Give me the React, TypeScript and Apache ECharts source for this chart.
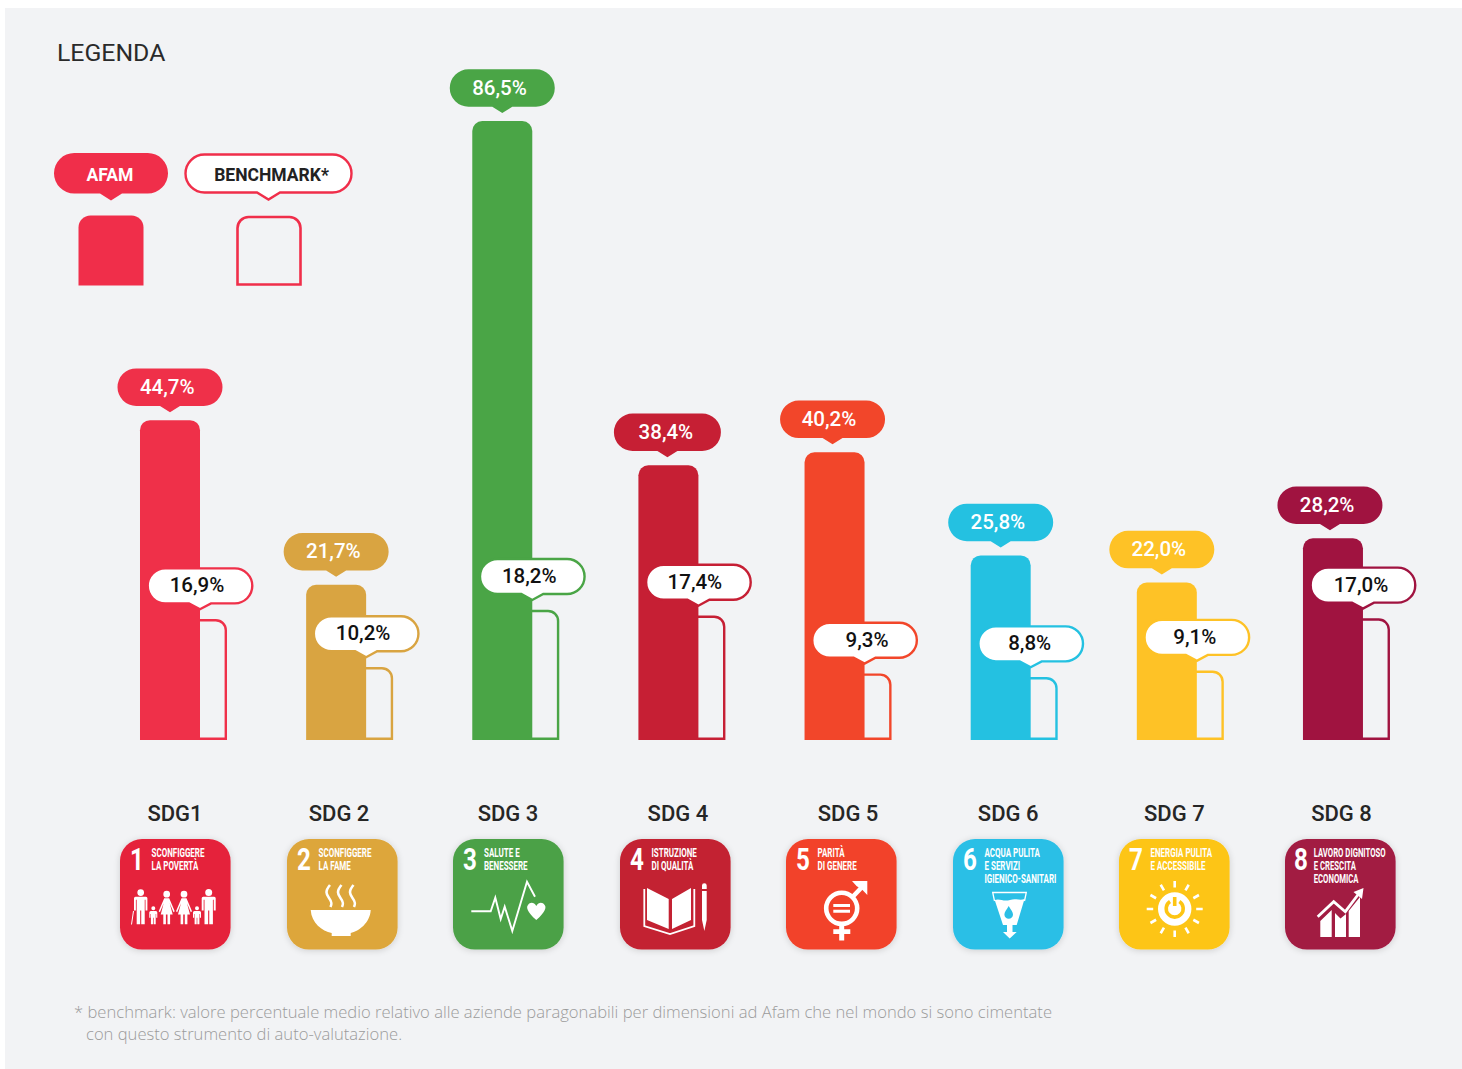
import React, { useEffect, useRef } from "react";
import * as echarts from "echarts";

// ---------- data ----------
const categories = ["SDG1", "SDG 2", "SDG 3", "SDG 4", "SDG 5", "SDG 6", "SDG 7", "SDG 8"];
const afamValues = [44.7, 21.7, 86.5, 38.4, 40.2, 25.8, 22.0, 28.2];
// values printed in the labels
const benchmarkValues = [16.9, 10.2, 18.2, 17.4, 9.3, 8.8, 9.1, 17.0];
// bar heights as drawn in the picture (the SDG 7 bar stands a little taller than its label says)
const benchmarkBarValues = [16.9, 10.2, 18.2, 17.4, 9.3, 8.8, 9.7, 17.0];
const iconNumbers = ["1", "2", "3", "4", "5", "6", "7", "8"];
const iconLabels = [
  ["SCONFIGGERE", "LA POVERTÀ"],
  ["SCONFIGGERE", "LA FAME"],
  ["SALUTE E", "BENESSERE"],
  ["ISTRUZIONE", "DI QUALITÀ"],
  ["PARITÀ", "DI GENERE"],
  ["ACQUA PULITA", "E SERVIZI", "IGIENICO-SANITARI"],
  ["ENERGIA PULITA", "E ACCESSIBILE"],
  ["LAVORO DIGNITOSO", "E CRESCITA", "ECONOMICA"],
];
const footnoteLines = [
  "* benchmark: valore percentuale medio relativo alle aziende paragonabili per dimensioni ad Afam che nel mondo si sono cimentate",
  "con questo strumento di auto-valutazione.",
];

// ---------- style / layout ----------
const barColors = ["#ef3049", "#d9a441", "#4aa546", "#c61f34", "#f2462a", "#24c1e1", "#fec226", "#a01340"];
const iconColors = ["#e5243b", "#dda63a", "#4ca146", "#c32030", "#f2432b", "#2bbfe6", "#fdc513", "#a21a42"];
const iconLefts = [120, 287, 453, 620, 786, 953, 1119, 1285];
const labelShift = [-8.5, -10.6, -7.8, -4, 0, -6, -6, -5];
const afamBubbleShift = [0, 0, 0, -1, -2, 0, -5, -3];
const afamBubbleWidth = [105, 105, 105, 107, 105, 105, 105, 105];
const afamTextShift = [-2.8, -2.8, -2.8, -1.5, -3.5, -2.8, -3, -2.8];
const benchTextShift = [-3, -3, -3, -3.5, 2.5, -1, -2, -2];
const PANEL = "#f2f3f5";
const FONT = "Roboto";

const F = (n: number) => +n.toFixed(2);

function bubblePath(cx: number, top: number, w: number, h: number, tipX: number, tipY: number, base: number) {
  const r = h / 2;
  const l = cx - w / 2;
  const rr = cx + w / 2;
  const b = top + h;
  return (
    `M${F(l + r)} ${F(top)} L${F(rr - r)} ${F(top)} A${F(r)} ${F(r)} 0 0 1 ${F(rr - r)} ${F(b)} ` +
    `L${F(tipX + base)} ${F(b)} L${F(tipX)} ${F(tipY)} L${F(tipX - base)} ${F(b)} ` +
    `L${F(l + r)} ${F(b)} A${F(r)} ${F(r)} 0 0 1 ${F(l + r)} ${F(top)} Z`
  );
}

const circ = (cx: number, cy: number, r: number) =>
  `M${F(cx - r)} ${F(cy)} a${r} ${r} 0 1 0 ${F(2 * r)} 0 a${r} ${r} 0 1 0 ${F(-2 * r)} 0 Z `;
const box = (x: number, y: number, w: number, h: number) =>
  `M${F(x)} ${F(y)} L${F(x + w)} ${F(y)} L${F(x + w)} ${F(y + h)} L${F(x)} ${F(y + h)} Z `;

function man(cx: number, top: number, bottom: number, hw: number) {
  const hr = hw * 0.5;
  const mid = top + (bottom - top) * 0.5;
  return (
    circ(cx, top - hr - 0.8, hr) +
    `M${F(cx - hw)} ${F(top + 1.5)} Q${F(cx - hw)} ${F(top)} ${F(cx - hw + 1.5)} ${F(top)} L${F(cx + hw - 1.5)} ${F(top)} Q${F(cx + hw)} ${F(top)} ${F(cx + hw)} ${F(top + 1.5)} L${F(cx + hw)} ${F(mid)} L${F(cx + hw * 0.72)} ${F(mid)} L${F(cx + hw * 0.72)} ${F(top + 3)} L${F(cx + hw * 0.6)} ${F(top + 3)} L${F(cx + hw * 0.6)} ${F(bottom)} L${F(cx + hw * 0.08)} ${F(bottom)} L${F(cx + hw * 0.08)} ${F(mid)} L${F(cx - hw * 0.08)} ${F(mid)} L${F(cx - hw * 0.08)} ${F(bottom)} L${F(cx - hw * 0.6)} ${F(bottom)} L${F(cx - hw * 0.6)} ${F(top + 3)} L${F(cx - hw * 0.72)} ${F(top + 3)} L${F(cx - hw * 0.72)} ${F(mid)} L${F(cx - hw)} ${F(mid)} Z `
  );
}

function woman(cx: number, top: number, bottom: number, hw: number) {
  const hr = hw * 0.42;
  const hem = top + (bottom - top) * 0.62;
  return (
    circ(cx, top - hr - 0.8, hr) +
    `M${F(cx - 2.5)} ${F(top)} L${F(cx + 2.5)} ${F(top)} L${F(cx + hw)} ${F(top + 13)} L${F(cx + hw - 1.2)} ${F(top + 14)} L${F(cx + 3)} ${F(top + 5)} L${F(cx + hw * 0.75)} ${F(hem)} L${F(cx - hw * 0.75)} ${F(hem)} L${F(cx - 3)} ${F(top + 5)} L${F(cx - hw + 1.2)} ${F(top + 14)} L${F(cx - hw)} ${F(top + 13)} Z ` +
    box(cx - 3.4, hem, 2.6, bottom - hem) +
    box(cx + 0.8, hem, 2.6, bottom - hem)
  );
}

const sunRays = Array.from({ length: 12 }, (_, k) => {
  const a = (k * Math.PI) / 6;
  const c = 55.7;
  const d = 70;
  return `M${F(c + 21.5 * Math.sin(a))} ${F(d - 21.5 * Math.cos(a))} L${F(c + 28 * Math.sin(a))} ${F(d - 28 * Math.cos(a))} `;
}).join("");

// glyphs in a 111x111 local box: solid parts, stroked parts, parts in the tile colour
const iconGlyphs = [
  {
    fill:
      man(20.7, 57.7, 85.3, 6.7) +
      man(33.3, 72, 85.3, 4) +
      woman(46.7, 59.3, 85.3, 8) +
      woman(64, 59.3, 85.3, 8) +
      man(77, 72, 85.3, 4) +
      man(88.7, 57.7, 85.3, 7),
    stroke: "M13.5 72 L11.5 85.5",
    width: 1,
  },
  {
    fill: "M23.7 71 L83.7 71 C83 84 72 92 63.7 94 L63.7 97 L44.7 97 L44.7 94 C35 92 24.5 84 23.7 71 Z",
    stroke:
      "M43 46 C38 52 39 55 42 59 C45 63 45 65 43.5 68 M54.5 46 C49.5 52 50.5 55 53.5 59 C56.5 63 56.5 65 55 68 M66.5 46 C61.5 52 62.5 55 65.5 59 C68.5 63 68.5 65 67 68",
    width: 2.6,
  },
  {
    fill: "M83.3 81 C74 73 73 68 75 66 C77 63 81 63 83.3 67 C85.6 63 89.6 63 91.6 66 C93.6 68 92.6 73 83.3 81 Z",
    stroke: "M18.3 72.3 L37.7 72.3 L42.3 58.7 L47.7 80 L51.7 67.7 L59.3 92 L74 42.7 L82 57.7",
    width: 1.9,
  },
  {
    fill:
      "M27 49 L48.7 60 L48.7 90 L27 81 Z M52 60 L71 49 L71 81 L52 90 Z " +
      "M82 46.5 A2.35 2.35 0 0 1 86.7 46.5 L86.7 50 L82 50 Z M82 52 L86.7 52 L86.7 81 L84.35 92 L82 81 Z",
    stroke: "M24.3 50 L24.3 87 L50 95 L74.3 87 L74.3 50",
    width: 1.8,
  },
  {
    fill:
      box(47.3, 65, 16.7, 3) +
      box(47.3, 70.8, 16.7, 3) +
      box(53.2, 85, 5, 16.5) +
      box(47.3, 90.3, 17, 4.7) +
      "M66 42 L81.3 42 L81.3 56 L76.5 51 L70.5 47 Z",
    stroke: circ(55.7, 69.3, 15.5) + "M67 57.5 L77 47",
    width: 4.6,
  },
  {
    fill: "M41.7 61 C47 59 50 63 57 61 C63 59 67 62 71.5 60 L63.7 86 L59.5 86 L59.5 93 L63.7 93 L56.7 99.5 L50 93 L54 93 L54 86 L50 86 Z",
    stroke: "M41.5 62 L39.7 53.5 L73.3 53.5 L71.5 62",
    width: 1.3,
    hole: "M55.7 67 C58 71 60 73 60 75.5 A4.3 4.3 0 0 1 51.4 75.5 C51.4 73 53.4 71 55.7 67 Z",
  },
  {
    fill: circ(55.7, 70, 16.7),
    stroke: sunRays,
    width: 2.6,
    holeStroke: "M51 62.5 A8.5 8.5 0 1 0 60.4 62.5 M55.7 58 L55.7 67",
    holeWidth: 3.6,
  },
  {
    fill:
      "M35.3 82 L46.7 71 L46.7 98 L35.3 98 Z M50 74 L55.5 79.5 L61 75 L61 98 L50 98 Z M63.7 72 L75 58 L75 98 L63.7 98 Z " +
      "M78.5 49 L68.5 53 L77 60 Z",
    stroke: "M32.7 77.7 L48.7 62.7 L60.3 72.7 L73.5 55",
    width: 2.8,
  },
];

const legendAfamD = bubblePath(111, 153, 114, 40.5, 111, 200.5, 11);
const legendBenchD = bubblePath(268.5, 154.5, 166, 38, 268.5, 199.5, 11.5);
echarts.graphic.registerShape("legendAfamBubble", echarts.graphic.extendPath(legendAfamD, {}));
echarts.graphic.registerShape("legendBenchBubble", echarts.graphic.extendPath(legendBenchD, {}));
iconGlyphs.forEach((g: any, i) => {
  echarts.graphic.registerShape(`glyphFill${i}`, echarts.graphic.extendPath(g.fill, {}));
  echarts.graphic.registerShape(`glyphStroke${i}`, echarts.graphic.extendPath(g.stroke, {}));
  if (g.hole) echarts.graphic.registerShape(`glyphHole${i}`, echarts.graphic.extendPath(g.hole, {}));
  if (g.holeStroke) echarts.graphic.registerShape(`glyphHoleStroke${i}`, echarts.graphic.extendPath(g.holeStroke, {}));
});

const fmt = (v: number) => v.toFixed(1).replace(".", ",") + "%";

function iconTile(i: number) {
  const g: any = iconGlyphs[i];
  const lineX = i === 7 ? 28.7 : i === 2 ? 31 : 31.5;
  const children: any[] = [
    {
      type: "rect",
      shape: { x: 0, y: 0, width: 110.6, height: 110.6, r: 22 },
      style: { fill: iconColors[i], shadowBlur: 6, shadowColor: "rgba(0,0,0,0.16)", shadowOffsetY: 1 },
    },
    {
      type: "text",
      x: i === 7 ? 16 : 17,
      y: 20.5,
      scaleX: 0.78,
      style: { text: iconNumbers[i], fill: "#fff", fontFamily: FONT, fontSize: 31, fontWeight: 700, align: "center", verticalAlign: "middle" },
    },
    ...iconLabels[i].map((t, k) => ({
      type: "text",
      x: lineX,
      y: 13.5 + k * 13.3,
      scaleX: i === 7 ? 0.645 : 0.665,
      style: { text: t, fill: "#fff", fontFamily: FONT, fontSize: 12, fontWeight: 700, align: "left", verticalAlign: "middle" },
    })),
    { type: `glyphFill${i}`, x: 0, y: 0, style: { fill: "#fff" } },
    { type: `glyphStroke${i}`, x: 0, y: 0, style: { fill: "none", stroke: "#fff", lineWidth: g.width } },
  ];
  if (g.hole) children.push({ type: `glyphHole${i}`, x: 0, y: 0, style: { fill: iconColors[i] } });
  if (g.holeStroke)
    children.push({
      type: `glyphHoleStroke${i}`,
      x: 0,
      y: 0,
      style: { fill: "none", stroke: iconColors[i], lineWidth: g.holeWidth },
    });
  return { type: "group", x: iconLefts[i], y: 839, silent: true, children };
}

function bubbleItem(
  cx: number,
  centerY: number,
  tipX: number,
  tipY: number,
  w: number,
  h: number,
  base: number,
  fill: string,
  stroke: string | null,
  text: string,
  textColor: string,
  textShift: number
) {
  return {
    type: "group",
    children: [
      {
        type: "path",
        shape: { pathData: bubblePath(cx, centerY - h / 2, w, h, tipX, tipY, base) },
        style: stroke ? { fill, stroke, lineWidth: 2.4 } : { fill },
      },
      {
        type: "text",
        style: {
          text,
          x: cx + textShift,
          y: centerY - 0.5,
          fill: textColor,
          fontFamily: FONT,
          fontSize: 20.5,
          fontWeight: 500,
          align: "center",
          verticalAlign: "middle",
        },
      },
    ],
  };
}

export default function App() {
  const ref = useRef<HTMLDivElement>(null);
  useEffect(() => {
    const chart = echarts.init(ref.current!, undefined, { renderer: "svg" });
    const afamBubbles = (params: any, api: any) => {
      const i = params.dataIndex;
      const [x, y] = api.coord([api.value(0), api.value(1)]);
      const tipX = x - 13.5 + afamBubbleShift[i];
      return bubbleItem(tipX, y - 33, tipX, y - 8, afamBubbleWidth[i], 37.5, 10, barColors[i], null, fmt(api.value(1)), "#fff", afamTextShift[i]);
    };
    const benchBubbles = (params: any, api: any) => {
      const i = params.dataIndex;
      const [x, y] = api.coord([api.value(0), api.value(1)]);
      const tipX = x + 16.5;
      return bubbleItem(x + 16.5, y - 33.2, tipX, y - 9.8, 104.6, 35, 11, "#fff", barColors[i], fmt(benchmarkValues[i]), "#111", benchTextShift[i]);
    };
    chart.setOption({
      animation: false,
      backgroundColor: "#fff",
      tooltip: { show: false },
      grid: { left: 100.43, top: 24.4, width: 1329.1, height: 715.6 },
      xAxis: {
        type: "category",
        data: categories.map((c, i) => ({ value: c, textStyle: { padding: [0, -2 * labelShift[i], 0, 0] } })),
        axisLine: { show: false },
        axisTick: { show: false },
        axisLabel: {
          interval: 0,
          margin: 62,
          color: "#262626",
          fontFamily: FONT,
          fontSize: 22,
          fontWeight: 500,
        },
      },
      yAxis: { type: "value", min: 0, max: 100, show: false, splitLine: { show: false } },
      graphic: {
        elements: [
          { type: "rect", shape: { x: 5, y: 8, width: 1457, height: 1061 }, style: { fill: PANEL }, silent: true },
          {
            type: "text",
            x: 57,
            y: 52.5,
            style: { text: "LEGENDA", fill: "#2a2a2a", fontFamily: FONT, fontSize: 24.8, fontWeight: 400, align: "left", verticalAlign: "middle" },
          },
          { type: "legendAfamBubble", x: 0, y: 0, style: { fill: "#f02e4a" } },
          { type: "legendBenchBubble", x: 0, y: 0, style: { fill: "#fff", stroke: "#f02e4a", lineWidth: 2.4 } },
          {
            type: "text",
            x: 110,
            y: 174.5,
            style: { text: "AFAM", fill: "#fff", fontFamily: FONT, fontSize: 17.5, fontWeight: 700, align: "center", verticalAlign: "middle" },
          },
          {
            type: "text",
            x: 271.5,
            y: 174.5,
            style: { text: "BENCHMARK*", fill: "#222", fontFamily: FONT, fontSize: 17.5, fontWeight: 700, align: "center", verticalAlign: "middle" },
          },
          { type: "rect", shape: { x: 78.5, y: 215.5, width: 65, height: 70, r: [12, 12, 0, 0] }, style: { fill: "#f02e4a" } },
          {
            type: "rect",
            shape: { x: 237.5, y: 217, width: 63, height: 67.5, r: [11, 11, 0, 0] },
            style: { fill: PANEL, stroke: "#f02e4a", lineWidth: 2.6 },
          },
          ...categories.map((_, i) => iconTile(i)),
          {
            type: "text",
            x: 74,
            y: 1011.5,
            scaleX: 0.977,
            style: { text: footnoteLines[0], fill: "#9b9b9b", fontFamily: "Open Sans", fontSize: 17, fontWeight: 300, align: "left", verticalAlign: "middle" },
          },
          {
            type: "text",
            x: 86,
            y: 1033.5,
            scaleX: 0.977,
            style: { text: footnoteLines[1], fill: "#9b9b9b", fontFamily: "Open Sans", fontSize: 17, fontWeight: 300, align: "left", verticalAlign: "middle" },
          },
        ],
      },
      series: [
        {
          type: "bar",
          name: "AFAM",
          data: afamValues.map((v, i) => ({ value: v, itemStyle: { color: barColors[i] } })),
          barWidth: 60,
          barGap: "-55%",
          z: 3,
          itemStyle: { borderRadius: [10, 10, 0, 0] },
        },
        {
          type: "bar",
          name: "Benchmark",
          data: benchmarkBarValues.map((v, i) => ({
            value: v,
            itemStyle: { color: PANEL, borderColor: barColors[i] },
          })),
          barWidth: 60,
          z: 2,
          itemStyle: { borderWidth: 2.4, borderRadius: [10, 10, 0, 0] },
        },
        {
          type: "custom",
          name: "AFAM labels",
          z: 4,
          clip: false,
          data: afamValues.map((v, i) => [i, v]),
          renderItem: afamBubbles,
        },
        {
          type: "custom",
          name: "Benchmark labels",
          z: 5,
          clip: false,
          data: benchmarkBarValues.map((v, i) => [i, v]),
          renderItem: benchBubbles,
        },
      ],
    });
    return () => chart.dispose();
  }, []);
  return <div ref={ref} style={{ position: "absolute", left: 0, top: 0, width: 1462, height: 1069 }} />;
}
